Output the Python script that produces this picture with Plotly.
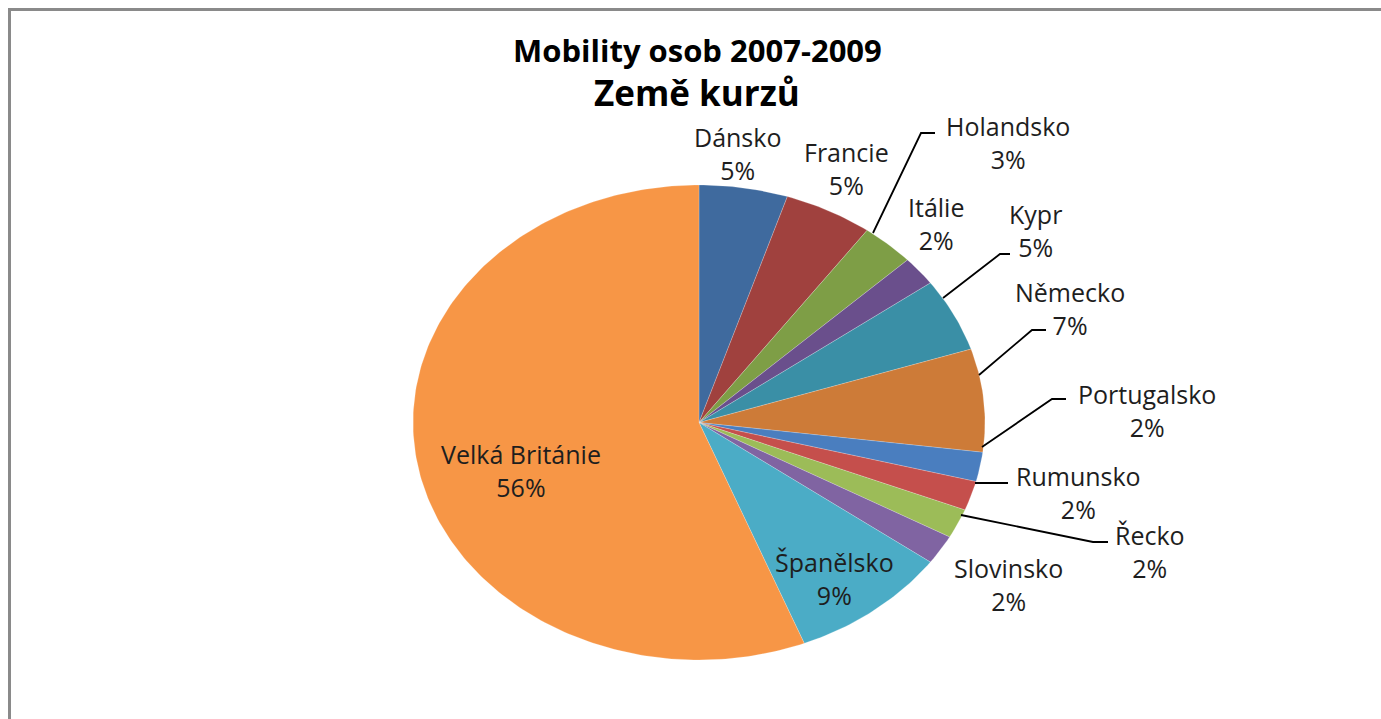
import numpy as np
import plotly.graph_objects as go

# ---------------- data ----------------
countries = ["Dánsko", "Francie", "Holandsko", "Itálie", "Kypr", "Německo",
             "Portugalsko", "Rumunsko", "Řecko", "Slovinsko", "Španělsko",
             "Velká Británie"]
shares = [5, 5, 3, 2, 5, 7, 2, 2, 2, 2, 9, 56]
title_line1 = "Mobility osob 2007-2009"
title_line2 = "Země kurzů"

# ---------------- style ----------------
colors = ["#3F6A9E", "#A0413E", "#7E9E46", "#6A4F8C", "#3A8FA6", "#CD7B38",
          "#4A7EBF", "#C54F4C", "#9CBC58", "#8064A2", "#4BACC6", "#F79646"]

W, H = 1381, 719
CX, CY = 699, 422.5        # pie centre in pixels
RX, RY = 286, 237.5        # pie radii in pixels (ellipse)

# label block centres (pixels) and leader lines (pixels)
label_pos = {
    "Dánsko": (737, 154), "Francie": (846, 168), "Holandsko": (1008, 142),
    "Itálie": (936, 223), "Kypr": (1035, 231), "Německo": (1070, 308),
    "Portugalsko": (1147, 410), "Rumunsko": (1078, 492), "Řecko": (1150, 551),
    "Slovinsko": (1008, 584), "Španělsko": (834, 578), "Velká Británie": (521, 470),
}
leaders = {
    "Holandsko": [(873, 233), (921, 133), (935, 133)],
    "Kypr": [(943, 298), (1000, 254), (1010, 254)],
    "Německo": [(979, 375), (1032, 330), (1046, 330)],
    "Portugalsko": [(982, 447), (1052, 399), (1066, 399)],
    "Rumunsko": [(975, 483), (1008, 483)],
    "Řecko": [(961, 515), (1093, 542), (1108, 542)],
}


def px(x):
    return x / W


def py(y):
    return 1 - y / H


fig = go.Figure()

total = float(sum(shares))
start = 0.0
for name, v, c in zip(countries, shares, colors):
    frac = v / total
    th = np.linspace(start, start + frac, max(int(frac * 400), 8)) * 2 * np.pi
    xs = np.concatenate([[0], np.sin(th), [0]])
    ys = np.concatenate([[0], np.cos(th), [0]])
    fig.add_trace(go.Scatter(
        x=xs, y=ys, mode="lines", fill="toself", fillcolor=c,
        line=dict(color="rgba(255,255,255,0.35)", width=0.6),
        name=name, hoverinfo="name", showlegend=False))
    start += frac

annotations = []
for name, v in zip(countries, shares):
    x, y = label_pos[name]
    pct = f"{round(v / total * 100)}%"
    annotations.append(dict(
        x=px(x), y=py(y), xref="paper", yref="paper", showarrow=False,
        text=f"{name}<br>{pct}", align="center", xanchor="center", yanchor="middle",
        font=dict(family="Open Sans", size=25, color="#1e1e1e")))

annotations.append(dict(x=px(697), y=py(50), xref="paper", yref="paper", showarrow=False,
                        text=f"<b>{title_line1}</b>", xanchor="center", yanchor="middle",
                        font=dict(family="Open Sans", size=31, color="#000000")))
annotations.append(dict(x=px(697), y=py(92), xref="paper", yref="paper", showarrow=False,
                        text=f"<b>{title_line2}</b>", xanchor="center", yanchor="middle",
                        font=dict(family="Open Sans", size=35, color="#000000")))

shapes = []
for name, pts in leaders.items():
    path = "M " + " L ".join(f"{px(a):.5f},{py(b):.5f}" for a, b in pts)
    shapes.append(dict(type="path", xref="paper", yref="paper", path=path,
                       line=dict(color="#000000", width=1.8)))

# chart frame (continues beyond right and bottom edges)
shapes.append(dict(type="rect", xref="paper", yref="paper",
                   x0=px(9.5), y0=-0.2, x1=1.2, y1=py(9.5),
                   line=dict(color="#8a8a8a", width=3), layer="below"))

fig.update_layout(
    width=W, height=H, autosize=False,
    margin=dict(l=0, r=0, t=0, b=0),
    paper_bgcolor="white", plot_bgcolor="white",
    xaxis=dict(range=[-CX / RX, (W - CX) / RX], visible=False, fixedrange=True),
    yaxis=dict(range=[-(H - CY) / RY, CY / RY], visible=False, fixedrange=True),
    annotations=annotations, shapes=shapes, showlegend=False,
)

fig.write_html("out.html", config={"displayModeBar": False},
               post_script="document.body.style.margin='0';document.body.style.overflow='hidden';")
